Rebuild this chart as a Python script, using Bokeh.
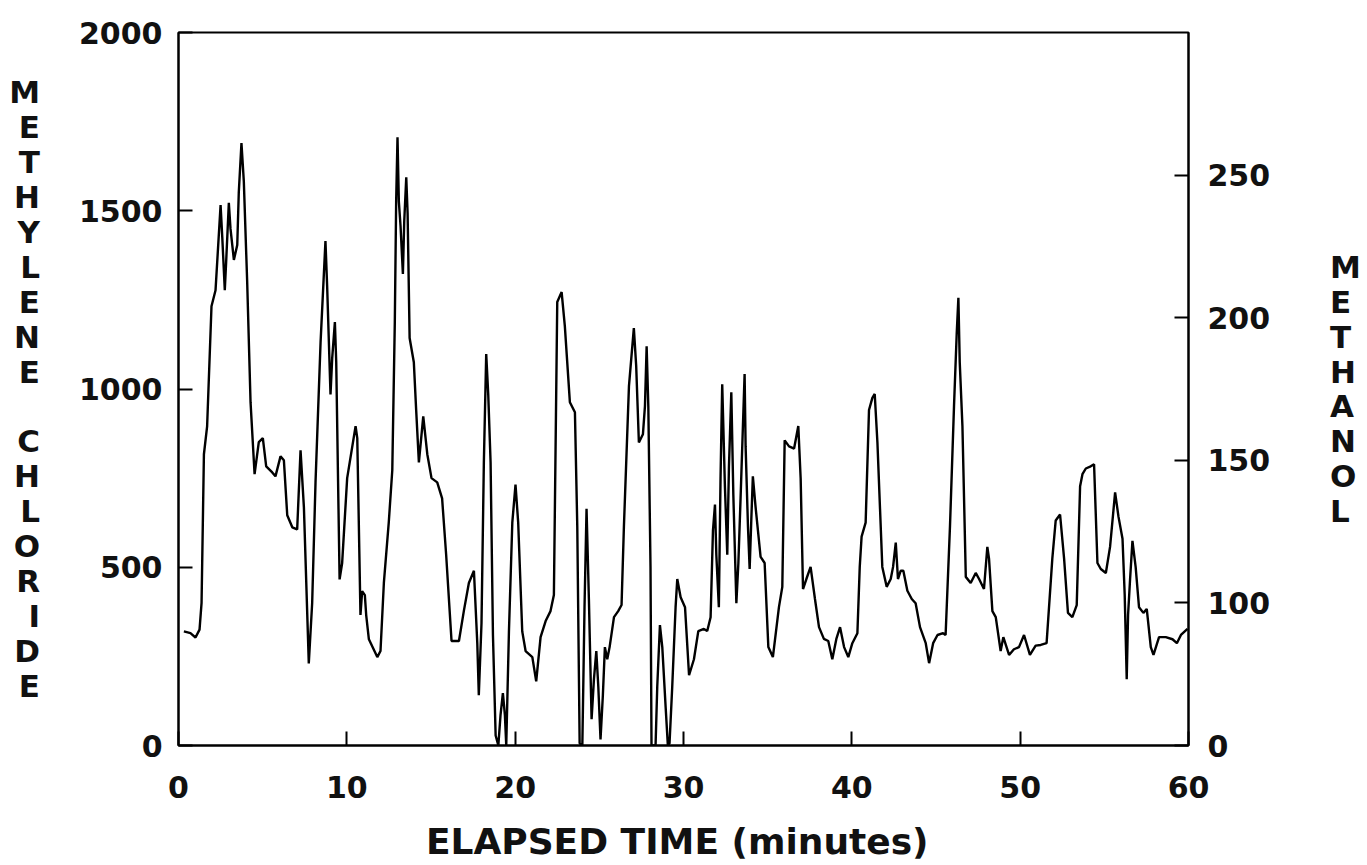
from bokeh.plotting import figure
from bokeh.models import Range1d, LinearAxis, FixedTicker
from bokeh.embed import file_html
from bokeh.resources import INLINE

# ---- data ----
time_min = [0.32, 0.71, 1.01, 1.25, 1.37, 1.51, 1.70, 1.96, 2.20, 2.50, 2.60, 2.75, 2.83, 2.99, 3.09, 3.29, 3.49, 3.58, 3.74, 3.88,
            4.08, 4.28, 4.52, 4.77, 5.01, 5.21, 5.57, 5.76, 6.06, 6.26, 6.46, 6.76, 7.05, 7.25, 7.45, 7.74, 7.94, 8.14, 8.44, 8.73,
            8.83, 9.03, 9.13, 9.29, 9.37, 9.57, 9.72, 10.02, 10.52, 10.62, 10.81, 10.91, 11.07, 11.15, 11.31, 11.81, 12.00, 12.20, 12.49, 12.70,
            12.85, 12.93, 13.01, 13.09, 13.19, 13.33, 13.41, 13.53, 13.61, 13.73, 13.98, 14.12, 14.28, 14.54, 14.78, 15.03, 15.37, 15.66, 15.90, 16.22,
            16.66, 16.95, 17.25, 17.55, 17.75, 17.84, 18.00, 18.14, 18.28, 18.40, 18.54, 18.68, 18.84, 19.00, 19.13, 19.27, 19.39, 19.47, 19.63, 19.83,
            20.02, 20.18, 20.42, 20.62, 21.02, 21.25, 21.51, 21.81, 22.10, 22.30, 22.50, 22.76, 22.95, 23.25, 23.55, 23.69, 23.83, 23.99, 24.12, 24.24,
            24.38, 24.54, 24.68, 24.82, 24.94, 25.07, 25.21, 25.33, 25.47, 25.61, 25.87, 26.12, 26.32, 26.46, 26.76, 27.05, 27.19, 27.35, 27.59, 27.71,
            27.81, 27.91, 28.04, 28.10, 28.34, 28.44, 28.60, 28.74, 28.94, 29.07, 29.17, 29.33, 29.53, 29.63, 29.83, 30.09, 30.33, 30.62, 30.88, 31.21,
            31.41, 31.61, 31.75, 31.87, 31.95, 32.10, 32.20, 32.30, 32.46, 32.60, 32.70, 32.84, 32.96, 33.14, 33.26, 33.39, 33.53, 33.63, 33.69, 33.83,
            33.93, 34.03, 34.12, 34.28, 34.58, 34.82, 35.04, 35.31, 35.67, 35.87, 36.01, 36.27, 36.57, 36.82, 36.96, 37.10, 37.30, 37.55, 37.81, 38.05,
            38.34, 38.60, 38.84, 39.08, 39.30, 39.54, 39.79, 40.03, 40.33, 40.47, 40.58, 40.82, 41.02, 41.22, 41.36, 41.52, 41.81, 42.07, 42.31, 42.45,
            42.61, 42.74, 42.90, 43.06, 43.30, 43.56, 43.79, 44.05, 44.39, 44.59, 44.83, 45.09, 45.42, 45.57, 45.83, 46.07, 46.23, 46.33, 46.41, 46.57,
            46.77, 47.06, 47.36, 47.56, 47.85, 48.05, 48.15, 48.35, 48.55, 48.84, 49.00, 49.34, 49.63, 49.93, 50.23, 50.58, 50.92, 51.22, 51.57, 51.91,
            52.11, 52.37, 52.61, 52.84, 53.10, 53.36, 53.56, 53.70, 53.90, 54.19, 54.39, 54.59, 54.79, 55.09, 55.34, 55.64, 55.84, 56.08, 56.21, 56.33,
            56.41, 56.53, 56.67, 56.86, 57.06, 57.32, 57.52, 57.76, 57.92, 58.25, 58.65, 59.05, 59.31, 59.55, 59.94]

methylene_chloride = [320, 315, 303, 325, 400, 817, 895, 1232, 1277, 1516, 1426, 1277, 1356, 1522, 1449, 1362, 1404, 1550, 1690, 1583,
                      1300, 963, 761, 851, 862, 783, 766, 755, 811, 800, 646, 612, 606, 828, 668, 230, 399, 738, 1131, 1415,
                      1289, 985, 1086, 1188, 1075, 466, 511, 750, 896, 862, 366, 433, 422, 366, 298, 248, 265, 456, 625, 772,
                      1188, 1526, 1706, 1526, 1458, 1323, 1470, 1594, 1493, 1143, 1075, 940, 794, 923, 817, 750, 738, 693, 535, 293,
                      293, 377, 456, 490, 287, 141, 343, 794, 1098, 985, 794, 310, 28, 0, 85, 147, 85, 0, 320, 625,
                      732, 625, 320, 265, 248, 180, 304, 349, 377, 422, 1244, 1272, 1177, 963, 935, 614, 6, 0, 388, 664,
                      411, 74, 186, 265, 164, 17, 141, 276, 242, 276, 360, 377, 394, 614, 1008, 1171, 1064, 850, 873, 952,
                      1120, 952, 501, 0, 0, 164, 338, 276, 107, 0, 6, 164, 388, 467, 416, 388, 197, 242, 321, 327,
                      321, 360, 603, 676, 535, 388, 749, 1013, 727, 535, 783, 991, 704, 399, 512, 693, 896, 1042, 839, 614,
                      495, 636, 755, 670, 529, 512, 276, 248, 388, 445, 856, 839, 833, 896, 749, 439, 467, 501, 411, 332,
                      299, 293, 242, 299, 332, 276, 248, 287, 315, 501, 586, 625, 941, 975, 986, 850, 501, 445, 467, 501,
                      569, 467, 490, 490, 434, 411, 399, 332, 287, 231, 287, 310, 315, 310, 614, 952, 1155, 1256, 1075, 896,
                      473, 456, 484, 467, 439, 557, 524, 377, 360, 265, 304, 254, 270, 276, 310, 254, 280, 282, 287, 524,
                      631, 648, 524, 372, 360, 394, 727, 761, 777, 783, 789, 512, 495, 484, 557, 710, 642, 580, 422, 186,
                      366, 467, 574, 501, 388, 372, 383, 276, 254, 304, 304, 298, 287, 310, 327]

x_ticks = [0, 10, 20, 30, 40, 50, 60]
left_ticks = [0, 500, 1000, 1500, 2000]
right_ticks = [50, 100, 150, 200, 250]
right_tick_labels = {50: "0", 100: "100", 150: "150", 200: "200", 250: "250"}
left_title = "METHYLENE CHLORIDE"
right_title = "METHANOL"
x_title = "ELAPSED TIME  (minutes)"

FONT = "DejaVu Sans"
TICK_SIZE = "30px"
TITLE_SIZE = "31px"

W, H = 1367, 865
p = figure(width=W, height=H, x_range=Range1d(0, 60), y_range=Range1d(0, 2000),
           output_backend="svg", toolbar_location=None,
           min_border_left=178, min_border_right=W - 1188, min_border_top=32, min_border_bottom=H - 745)
p.extra_y_ranges = {"meth": Range1d(50, 300)}

p.grid.visible = False
p.outline_line_color = "black"
p.outline_line_width = 2
p.background_fill_color = "white"
p.border_fill_color = "white"

p.line(time_min, methylene_chloride, line_color="black", line_width=2.4)

right_axis = LinearAxis(y_range_name="meth")
p.add_layout(right_axis, "right")

p.xaxis.ticker = FixedTicker(ticks=x_ticks)
p.yaxis[0].ticker = FixedTicker(ticks=left_ticks)
right_axis.ticker = FixedTicker(ticks=right_ticks)
right_axis.major_label_overrides = right_tick_labels

for ax in [p.xaxis[0], p.yaxis[0], right_axis]:
    ax.axis_line_color = "black"
    ax.axis_line_width = 2
    ax.major_tick_in = 14
    ax.major_tick_out = 0
    ax.minor_tick_in = 0
    ax.minor_tick_out = 0
    ax.major_tick_line_width = 2
    ax.major_tick_line_color = "black"
    ax.major_label_text_font = FONT
    ax.major_label_text_font_style = "bold"
    ax.major_label_text_font_size = TICK_SIZE
    ax.major_label_text_color = "#111111"

p.yaxis[0].major_label_standoff = 16
right_axis.major_label_standoff = 19
p.xaxis[0].major_label_standoff = 30

p.xaxis[0].axis_label = x_title
p.xaxis[0].axis_label_text_font = FONT
p.xaxis[0].axis_label_text_font_style = "bold"
p.xaxis[0].axis_label_text_font_size = "36px"
p.xaxis[0].axis_label_text_color = "#111111"
p.xaxis[0].axis_label_standoff = 20

# stacked-letter vertical titles as multi-line axis labels
def stack(text):
    return "\n".join(" " if ch == " " else ch for ch in text)

for ax, txt, standoff in [(p.yaxis[0], left_title, 36), (right_axis, right_title, 57)]:
    ax.axis_label = stack(txt)
    ax.axis_label_orientation = "horizontal"
    ax.axis_label_text_font = FONT
    ax.axis_label_text_font_style = "bold"
    ax.axis_label_text_font_size = TITLE_SIZE
    ax.axis_label_text_color = "#111111"
    ax.axis_label_text_line_height = 0.97
    ax.axis_label_standoff = standoff
    ax.axis_label_text_align = "center"

open("out.html", "w").write(file_html(p, INLINE))
